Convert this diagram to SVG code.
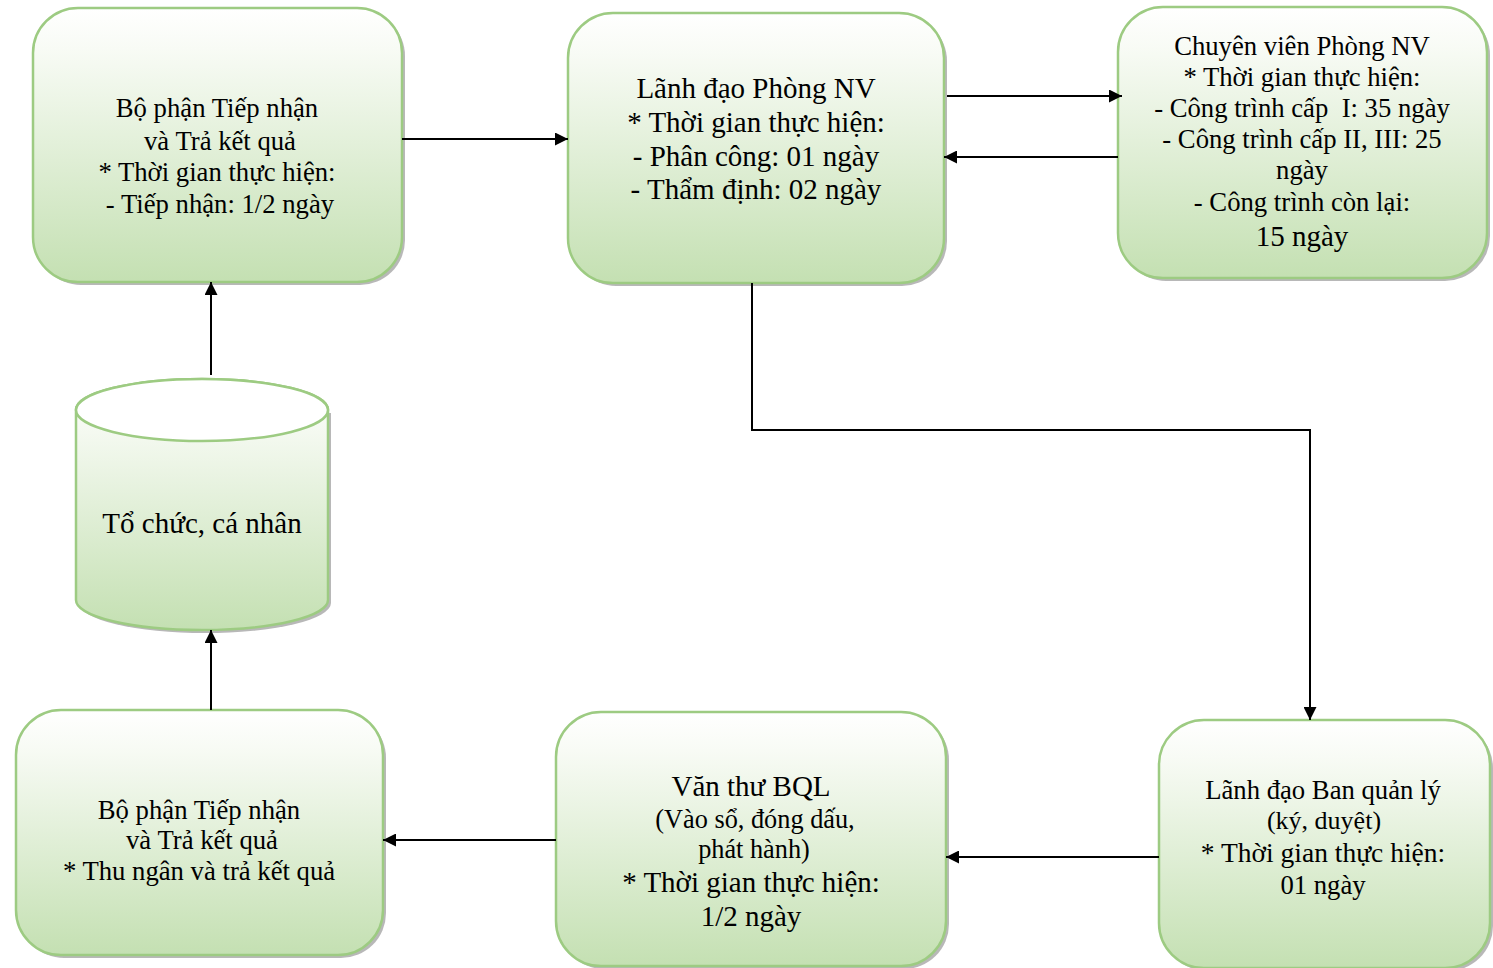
<svg xmlns="http://www.w3.org/2000/svg" width="1493" height="968" viewBox="0 0 1493 968">
<defs>
<linearGradient id="g" x1="0" y1="0" x2="0" y2="1">
<stop offset="0" stop-color="#ffffff"/>
<stop offset="0.15" stop-color="#f8fbf5"/>
<stop offset="1" stop-color="#c4e0b2"/>
</linearGradient>
<marker id="ah" viewBox="0 0 10 10" refX="10" refY="5" markerWidth="14" markerHeight="13" markerUnits="userSpaceOnUse" orient="auto">
<path d="M0,0 L10,5 L0,10 z" fill="#000"/>
</marker>
</defs>
<style>
.box{fill:url(#g);stroke:#9dcb82;stroke-width:2.5}
.sh{fill:#9a9a9a;opacity:0.7}
.t{font-family:"Liberation Serif","Times New Roman",serif;fill:#000;text-anchor:middle}
.c{fill:none;stroke:#000;stroke-width:2;marker-end:url(#ah)}
</style>
<rect width="1493" height="968" fill="#fff"/>
<g id="box1">
<rect class="sh" x="36" y="11" width="369" height="274" rx="45"/>
<rect class="box" x="33" y="8" width="369" height="274" rx="45"/>
<text class="t" font-size="26.7"><tspan x="217" y="117">Bộ phận Tiếp nhận</tspan><tspan x="220" y="150">và Trả kết quả</tspan><tspan x="217" y="181">* Thời gian thực hiện:</tspan><tspan x="220" y="213">- Tiếp nhận: 1/2 ngày</tspan></text>
</g>
<g id="box2">
<rect class="sh" x="571" y="16" width="376" height="270" rx="45"/>
<rect class="box" x="568" y="13" width="376" height="270" rx="45"/>
<text class="t" font-size="29"><tspan x="756" y="98">Lãnh đạo Phòng NV</tspan><tspan x="756" y="132">* Thời gian thực hiện:</tspan><tspan x="756" y="166">- Phân công: 01 ngày</tspan><tspan x="756" y="199">- Thẩm định: 02 ngày</tspan></text>
</g>
<g id="box3">
<rect class="sh" x="1121" y="10" width="369" height="271" rx="45"/>
<rect class="box" x="1118" y="7" width="369" height="271" rx="45"/>
<text class="t" font-size="26.7" xml:space="preserve"><tspan x="1302" y="55">Chuyên viên Phòng NV</tspan><tspan x="1302" y="86">* Thời gian thực hiện:</tspan><tspan x="1302" y="117">- Công trình cấp  I: 35 ngày</tspan><tspan x="1302" y="148">- Công trình cấp II, III: 25</tspan><tspan x="1302" y="179">ngày</tspan><tspan x="1302" y="211">- Công trình còn lại:</tspan><tspan x="1302" y="246" font-size="29">15 ngày</tspan></text>
</g>
<g id="box4">
<rect class="sh" x="1162" y="723" width="331" height="248" rx="45"/>
<rect class="box" x="1159" y="720" width="331" height="248" rx="45"/>
<text class="t"><tspan x="1323" y="799" font-size="26.7">Lãnh đạo Ban quản lý</tspan><tspan x="1324" y="829" font-size="26">(ký, duyệt)</tspan><tspan x="1323" y="862" font-size="27.5">* Thời gian thực hiện:</tspan><tspan x="1323" y="894" font-size="26.7">01 ngày</tspan></text>
</g>
<g id="box5">
<rect class="sh" x="559" y="715" width="390" height="254" rx="45"/>
<rect class="box" x="556" y="712" width="390" height="254" rx="45"/>
<text class="t"><tspan x="751" y="796" font-size="29">Văn thư BQL</tspan><tspan x="755" y="828" font-size="26.3">(Vào sổ, đóng dấu,</tspan><tspan x="754" y="858" font-size="26.3">phát hành)</tspan><tspan x="751" y="892" font-size="29">* Thời gian thực hiện:</tspan><tspan x="751" y="926" font-size="29">1/2 ngày</tspan></text>
</g>
<g id="box6">
<rect class="sh" x="19" y="713" width="367" height="245" rx="45"/>
<rect class="box" x="16" y="710" width="367" height="245" rx="45"/>
<text class="t" font-size="26.7"><tspan x="199" y="819">Bộ phận Tiếp nhận</tspan><tspan x="202" y="849">và Trả kết quả</tspan><tspan x="199" y="880">* Thu ngân và trả kết quả</tspan></text>
</g>
<g id="cyl">
<path class="sh" d="M79,413 L79,603 A126,30 0 0 0 331,603 L331,413 z"/>
<path class="box" d="M76,410 L76,600 A126,30 0 0 0 328,600 L328,410 A126,31 0 0 0 76,410 z"/>
<ellipse cx="202" cy="410" rx="126" ry="31" fill="#fff" stroke="#9dcb82" stroke-width="2.5"/>
<text class="t" font-size="29" x="202" y="533">Tổ chức, cá nhân</text>
</g>
<g id="connectors">
<line class="c" x1="402" y1="139" x2="568" y2="139"/>
<line class="c" x1="947" y1="96" x2="1122" y2="96"/>
<line class="c" x1="1118" y1="157" x2="944" y2="157"/>
<polyline class="c" points="752,283 752,430 1310,430 1310,720"/>
<line class="c" x1="1159" y1="857" x2="946" y2="857"/>
<line class="c" x1="556" y1="840" x2="383" y2="840"/>
<line class="c" x1="211" y1="710" x2="211" y2="630"/>
<line class="c" x1="211" y1="375" x2="211" y2="282"/>
</g>
</svg>
